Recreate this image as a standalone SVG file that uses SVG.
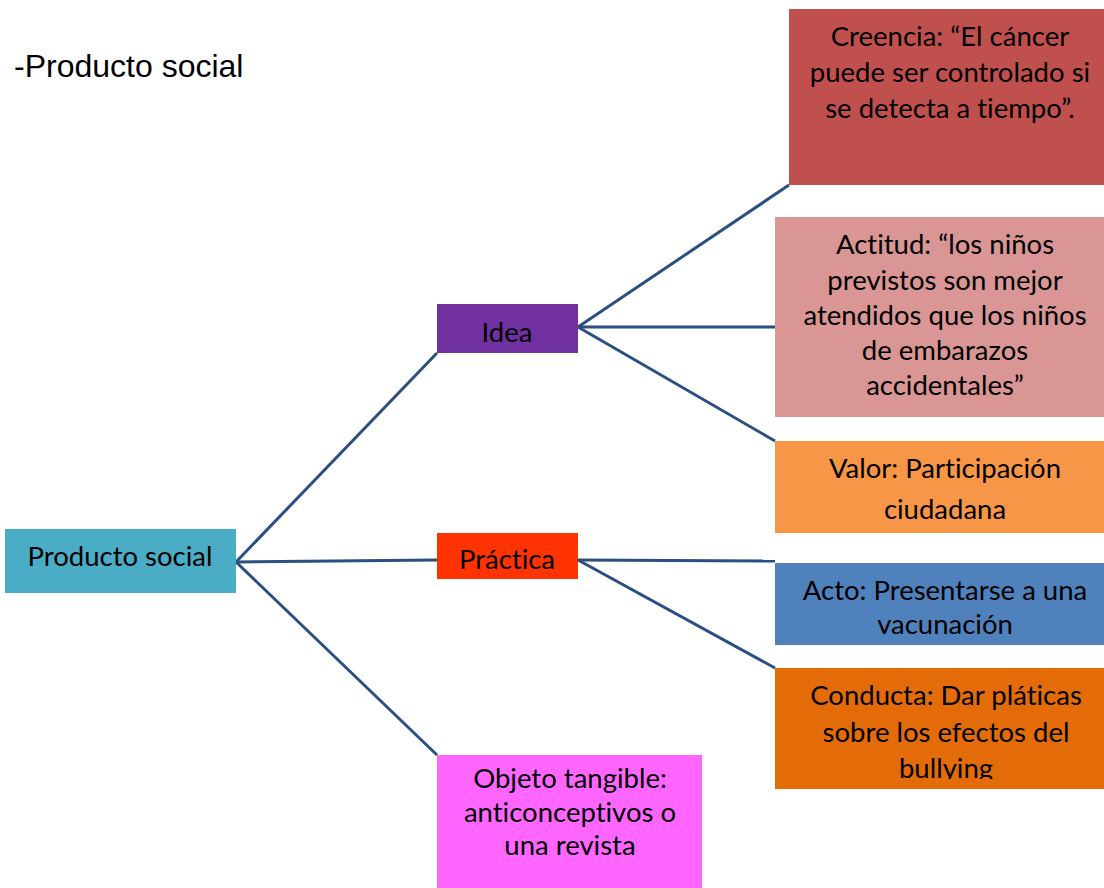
<svg xmlns="http://www.w3.org/2000/svg" width="1104" height="888" viewBox="0 0 1104 888">
  <style>
    .lbl { font-family: Lato, "Open Sans", "Noto Sans", sans-serif; font-size: 27.5px; fill: #000; text-anchor: middle; font-variant-ligatures: none; font-feature-settings: "liga" 0, "dlig" 0; }
    .title { font-family: "Liberation Sans", Arial, sans-serif; font-size: 32px; fill: #000; }
    .link { stroke: #2a4f80; stroke-width: 3; fill: none; }
  </style>
  <defs>
    <clipPath id="clipConducta">
      <rect x="775" y="668" width="329" height="111"/>
    </clipPath>
  </defs>
  <rect width="1104" height="888" fill="#ffffff"/>

  <text class="title" x="14" y="77">-Producto social</text>

  <!-- connectors -->
  <g id="connectors">
    <line class="link" x1="236" y1="562" x2="437" y2="353"/>
    <line class="link" x1="236" y1="562" x2="437" y2="560"/>
    <line class="link" x1="236" y1="562" x2="437" y2="755"/>
    <line class="link" x1="578" y1="327" x2="789" y2="185"/>
    <line class="link" x1="578" y1="327" x2="775" y2="327"/>
    <line class="link" x1="578" y1="327" x2="775" y2="441"/>
    <line class="link" x1="578" y1="560" x2="775" y2="561"/>
    <line class="link" x1="578" y1="560" x2="775" y2="668"/>
  </g>

  <g id="producto">
    <rect x="5" y="529" width="231" height="64" fill="#4bacc6"/>
    <text class="lbl" x="120" y="566">Producto social</text>
  </g>

  <g id="idea">
    <rect x="437" y="304" width="141" height="49" fill="#7030a0"/>
    <text class="lbl" x="507" y="342">Idea</text>
  </g>

  <g id="practica">
    <rect x="437" y="533" width="141" height="46" fill="#ff3300"/>
    <text class="lbl" x="507" y="569">Práctica</text>
  </g>

  <g id="objeto">
    <rect x="437" y="755" width="265" height="133" fill="#ff66ff"/>
    <text class="lbl" x="570" y="788">Objeto tangible:</text>
    <text class="lbl" x="570" y="822">anticonceptivos o</text>
    <text class="lbl" x="570" y="855">una revista</text>
  </g>

  <g id="creencia">
    <rect x="789" y="9" width="315" height="176" fill="#c0504d"/>
    <text class="lbl" x="950" y="46">Creencia: “El cáncer</text>
    <text class="lbl" x="950" y="82">puede ser controlado si</text>
    <text class="lbl" x="950" y="118">se detecta a tiempo”.</text>
  </g>

  <g id="actitud">
    <rect x="775" y="217" width="329" height="200" fill="#d99694"/>
    <text class="lbl" x="945" y="254">Actitud: “los niños</text>
    <text class="lbl" x="945" y="290">previstos son mejor</text>
    <text class="lbl" x="945" y="325">atendidos que los niños</text>
    <text class="lbl" x="945" y="360">de embarazos</text>
    <text class="lbl" x="945" y="395">accidentales”</text>
  </g>

  <g id="valor">
    <rect x="775" y="441" width="329" height="92" fill="#f79646"/>
    <text class="lbl" x="945" y="478">Valor: Participación</text>
    <text class="lbl" x="945" y="519">ciudadana</text>
  </g>

  <g id="acto">
    <rect x="775" y="563" width="329" height="82" fill="#4f81bd"/>
    <text class="lbl" x="945" y="600">Acto: Presentarse a una</text>
    <text class="lbl" x="945" y="634">vacunación</text>
  </g>

  <g id="conducta">
    <rect x="775" y="668" width="329" height="121" fill="#e36c09"/>
    <g clip-path="url(#clipConducta)">
      <text class="lbl" x="946" y="705">Conducta: Dar pláticas</text>
      <text class="lbl" x="946" y="742">sobre los efectos del</text>
      <text class="lbl" x="946" y="778">bullying</text>
    </g>
  </g>
</svg>
